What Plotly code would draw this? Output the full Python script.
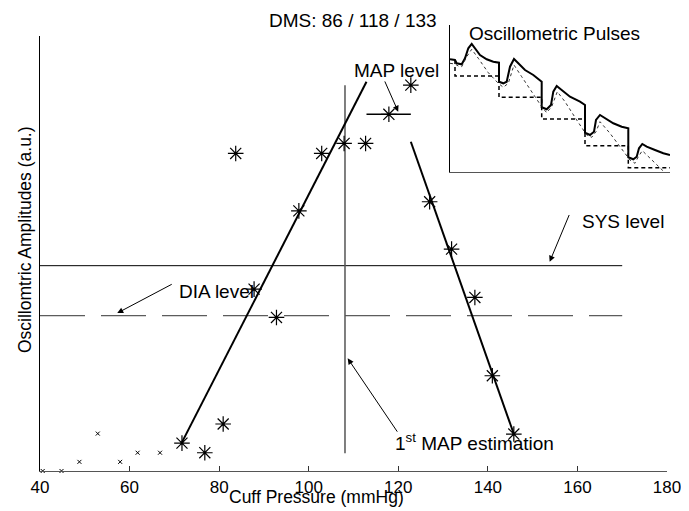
import plotly.graph_objects as go

# ---------------- data ----------------
star_x = [71.7, 76.8, 80.9, 83.7, 87.8, 92.8, 97.8, 102.9, 107.9, 112.7, 117.9, 122.8, 127.0, 131.9, 137.1, 141.0, 145.8]
star_y = [6.4, 4.2, 10.8, 73.0, 41.8, 35.3, 59.8, 73.0, 75.3, 75.3, 82.0, 88.7, 61.9, 51.0, 39.9, 21.9, 8.5]

small_x = [40.6, 44.8, 48.8, 52.9, 57.9, 61.8, 66.8]
small_y = [0.0, 0.0, 2.1, 8.6, 2.1, 4.2, 4.2]

left_fit_x = [71.6, 112.9]
left_fit_y = [6.4, 89.5]
right_fit_x = [122.8, 145.8]
right_fit_y = [75.7, 8.5]

map_est_x = [108.1, 108.1]
map_est_y = [4.1, 88.7]
map_level_x = [112.9, 122.8]
map_level_y = [82.0, 82.0]
sys_level_x = [40, 170]
sys_level_y = [47.2, 47.2]
dia_level_x = [40, 170]
dia_level_y = [35.7, 35.7]

x_ticks = [40, 60, 80, 100, 120, 140, 160, 180]

# inset (oscillometric pulses), arbitrary units
pulse_x = [0, 5, 6.7, 11.7, 15, 18.3, 21.7, 25, 30, 36.7, 43.3, 49, 49, 53.3, 56.7, 60, 64, 68.3, 75, 83.3,
           90, 91.7, 91.7, 96.7, 101, 103.3, 106.7, 111.7, 120, 130, 135, 135, 140, 144, 146, 150, 155, 163.3,
           171.7, 178.3, 178.3, 183.3, 186.7, 189, 192.3, 196.7, 205, 213.3, 220]
pulse_y = [112.7, 112, 108.7, 107.7, 113.7, 123.7, 128, 123.7, 117, 112.7, 110.3, 109.3, 90.3, 88.7, 90.3,
           105.3, 113, 108.7, 102, 97, 92, 90.3, 64.7, 62.7, 67, 80.3, 86, 82, 75.3, 70.3, 67, 39.3, 37, 40.3,
           52, 57, 53.7, 48.7, 45.3, 43.7, 14.7, 12.7, 15.3, 23.7, 28, 25.3, 22, 18.7, 17]
dot_x = [0, 5, 8.3, 11.7, 16.7, 21.7, 28.3, 38.3, 48.3, 53.3, 58.3, 64, 71.7, 81.7, 91.7, 96.7, 101.7, 107.3,
         115, 126.7, 136.7, 141.7, 146, 150, 160, 170, 180, 185, 188.3, 192.3, 200, 210, 215]
dot_y = [108.7, 108, 106, 105.3, 115.3, 122.7, 113.7, 99.3, 88.7, 84.7, 88.7, 107, 95.3, 80.3, 65.3, 59.3,
         65.3, 80.3, 70.3, 52, 37, 34.7, 40.3, 50.3, 38.7, 25.3, 12, 8.7, 15.3, 21.3, 13.7, 3.7, -0.7]
step_x = [5, 5, 49, 49, 91.7, 91.7, 135, 135, 178.3, 178.3, 220]
step_y = [112, 96, 96, 74.7, 74.7, 53, 53, 26.3, 26.3, 4.3, 4.3]

FONT = "Liberation Sans, Arial, Helvetica, sans-serif"

fig = go.Figure()

line_traces = [
    (sys_level_x, sys_level_y, dict(color="black", width=1)),
    (dia_level_x, dia_level_y, dict(color="#333333", width=1, dash="45px,16px")),
    (map_est_x, map_est_y, dict(color="#555555", width=1.5)),
    (left_fit_x, left_fit_y, dict(color="black", width=2)),
    (right_fit_x, right_fit_y, dict(color="black", width=2)),
    (map_level_x, map_level_y, dict(color="black", width=1.5)),
]
for lx, ly, ln in line_traces:
    fig.add_trace(go.Scatter(x=lx, y=ly, mode="lines", line=ln, showlegend=False,
                             hoverinfo="skip", xaxis="x", yaxis="y"))

fig.add_trace(go.Scatter(x=star_x, y=star_y, mode="markers", showlegend=False, cliponaxis=False,
                         marker=dict(symbol="asterisk-open", size=13, color="black",
                                     line=dict(color="black", width=1.2))))
fig.add_trace(go.Scatter(x=small_x, y=small_y, mode="markers", showlegend=False, cliponaxis=False,
                         marker=dict(symbol="x-thin-open", size=4, color="black",
                                     line=dict(color="black", width=1))))

# inset
fig.add_trace(go.Scatter(x=pulse_x, y=pulse_y, mode="lines", xaxis="x2", yaxis="y2", showlegend=False,
                         line=dict(color="black", width=2), cliponaxis=False))
fig.add_trace(go.Scatter(x=dot_x, y=dot_y, mode="lines", xaxis="x2", yaxis="y2", showlegend=False,
                         line=dict(color="#333333", width=1, dash="dot"), cliponaxis=False))
fig.add_trace(go.Scatter(x=step_x, y=step_y, mode="lines", xaxis="x2", yaxis="y2", showlegend=False,
                         line=dict(color="black", width=1.5, dash="4px,3px"), cliponaxis=False))

ann_font = dict(family=FONT, size=19, color="black")
c = dict(xanchor="center", yanchor="middle", showarrow=False)
annotations = [
    dict(text="DMS: 86 / 118 / 133", x=0.4968, y=1.0112, xref="paper", yref="paper", font=ann_font, **c),
    dict(text="MAP level", x=119.6, y=92.0, xref="x", yref="y", font=ann_font, **c),
    dict(text="SYS level", x=170.1, y=57.3, xref="x", yref="y", font=ann_font, **c),
    dict(text="DIA level", x=79.3, y=41.2, xref="x", yref="y", font=ann_font, **c),
    dict(text="1<sup>st</sup> MAP estimation", x=137.1, y=6.6, xref="x", yref="y", font=ann_font, **c),
    dict(text="Cuff Pressure (mmHg)", x=0.4381, y=-0.0583, xref="paper", yref="paper",
         font=dict(family=FONT, size=17.5, color="black"), **c),
    dict(text="Oscillomtric Amplitudes (a.u.)", x=-0.0238, y=53.1, xref="paper", yref="y",
         textangle=-90, font=dict(family=FONT, size=17.5, color="black"), **c),
    dict(text="Oscillometric Pulses", x=105, y=139, xref="x2", yref="y2", font=ann_font, **c),
]
arrows = [
    (119.98, 82.6, 116.85, 89.9),
    (153.8, 48.1, 158.3, 59.2),
    (57.25, 36.3, 69.75, 43.1),
    (108.7, 25.9, 120.0, 8.7),
]
for hx, hy, tx, ty in arrows:
    annotations.append(dict(x=hx, y=hy, ax=tx, ay=ty, xref="x", yref="y", axref="x", ayref="y",
                            text="", showarrow=True, arrowhead=2, arrowsize=1.2, arrowwidth=1,
                            arrowcolor="black"))

fig.update_layout(
    width=689, height=511,
    margin=dict(l=32, r=27, t=17, b=48),
    paper_bgcolor="white", plot_bgcolor="white",
    font=dict(family=FONT, size=17, color="black"),
    showlegend=False,
    xaxis=dict(domain=[0, 0.995238], range=[40, 180], tickvals=x_ticks, ticktext=[str(v) for v in x_ticks],
               showline=True, linecolor="#555555", linewidth=1.2, ticks="inside", ticklen=5,
               tickcolor="#333333", showgrid=False, zeroline=False, tickfont=dict(size=17),
               automargin=False),
    yaxis=dict(domain=[0, 0.97534], range=[0, 100], showline=True, linecolor="black", linewidth=1,
               showticklabels=False, ticks="", showgrid=False, zeroline=False, automargin=False),
    xaxis2=dict(domain=[0.65079, 1.0], range=[0, 220], anchor="y2", showline=True, linecolor="#555555",
                showticklabels=False, ticks="", showgrid=False, zeroline=False),
    yaxis2=dict(domain=[0.6704, 1.0], range=[0, 147], anchor="x2", showline=True, linecolor="black",
                showticklabels=False, ticks="", showgrid=False, zeroline=False),
    annotations=annotations,
)

fig.write_html("out.html")
